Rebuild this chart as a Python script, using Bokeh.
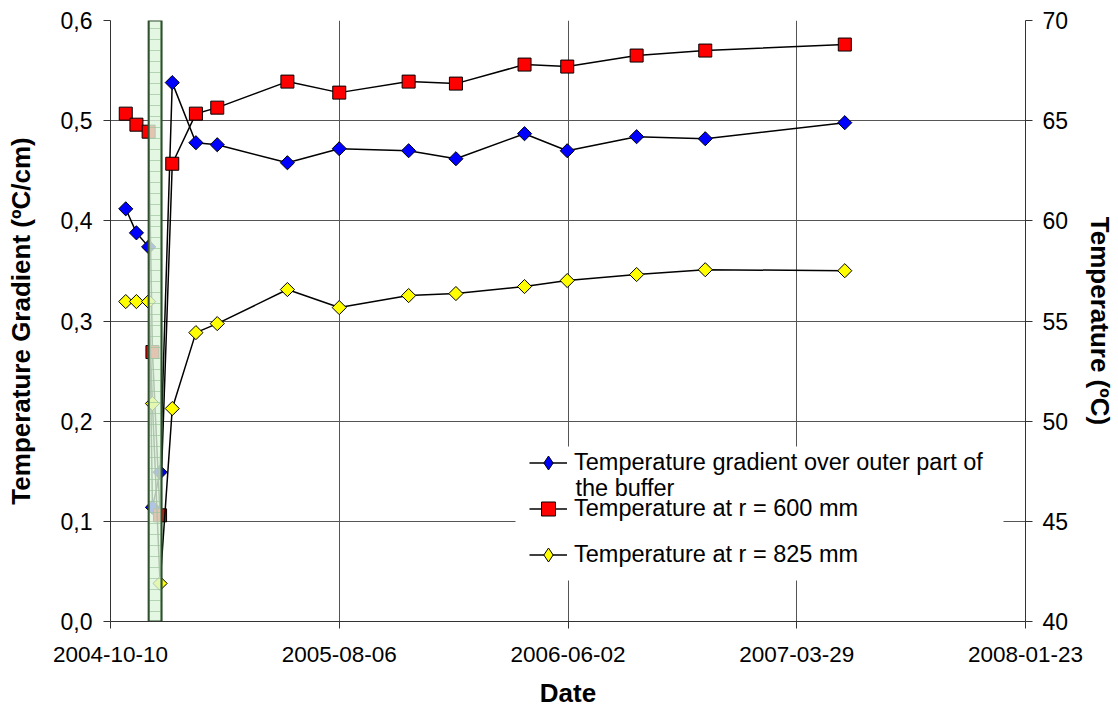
import numpy as np
import pandas as pd
from bokeh.plotting import figure
from bokeh.models import (LinearAxis, Range1d, FixedTicker, CustomJSTickFormatter,
                          Legend, LegendItem, Label, BoxAnnotation)
from bokeh.embed import file_html
from bokeh.resources import INLINE

# ---------------- data ----------------
dates = ["2004-10-30", "2004-11-13", "2004-11-29", "2004-12-04", "2004-12-14",
         "2004-12-30", "2005-01-30", "2005-02-27", "2005-05-30", "2005-08-06",
         "2005-11-05", "2006-01-06", "2006-04-06", "2006-06-01", "2006-08-31",
         "2006-11-29", "2007-05-31"]
gradient = [0.412, 0.388, 0.374, 0.114, 0.149, 0.538, 0.478, 0.476, 0.458, 0.472,
            0.470, 0.462, 0.487, 0.470, 0.484, 0.482, 0.498]
temp_600 = [65.35, 64.8, 64.45, 53.45, 45.3, 62.85, 65.35, 65.65, 66.95, 66.4,
            66.95, 66.85, 67.8, 67.7, 68.25, 68.5, 68.8]
temp_825 = [55.97, 55.97, 55.97, 50.88, 41.9, 50.63, 54.42, 54.87, 56.57, 55.67,
            56.27, 56.37, 56.72, 57.02, 57.32, 57.56, 57.51]
band_dates = ["2004-11-29", "2004-12-16"]
x_tick_labels = ["2004-10-10", "2005-08-06", "2006-06-02", "2007-03-29", "2008-01-23"]
left_ticks = [0.0, 0.1, 0.2, 0.3, 0.4, 0.5, 0.6]
right_ticks = [40, 45, 50, 55, 60, 65, 70]
legend_line1 = "Temperature gradient over outer part of"
legend_line2 = "the buffer"
series_names = ["Temperature at r = 600 mm", "Temperature at r = 825 mm"]

x = pd.to_datetime(dates)
x_ticks_dt = pd.to_datetime(x_tick_labels)
x_ticks_ms = [float(t.value // 10**6) for t in x_ticks_dt]
band = pd.to_datetime(band_dates)

FONT = "Liberation Sans"

p = figure(width=1118, height=710, x_axis_type="datetime",
           x_range=Range1d(x_ticks_dt[0], x_ticks_dt[-1]),
           y_range=Range1d(left_ticks[0], left_ticks[-1]),
           output_backend="svg", toolbar_location=None,
           min_border_left=110, min_border_right=88, min_border_top=20,
           min_border_bottom=89)
p.outline_line_color = None
p.background_fill_color = "white"
p.extra_y_ranges = {"temp": Range1d(right_ticks[0], right_ticks[-1])}

# axes
p.xaxis.ticker = FixedTicker(ticks=x_ticks_ms)
p.xaxis.major_label_overrides = {ms: lab for ms, lab in zip(x_ticks_ms, x_tick_labels)}
p.xaxis.axis_label = "Date"
p.yaxis.ticker = FixedTicker(ticks=left_ticks)
p.yaxis.formatter = CustomJSTickFormatter(code="return tick.toFixed(1).replace('.', ',');")
p.yaxis.axis_label = "Temperature Gradient (ºC/cm)"

right_axis = LinearAxis(y_range_name="temp", ticker=FixedTicker(ticks=right_ticks),
                        axis_label="Temperature (ºC)")
p.add_layout(right_axis, "right")

for ax in [p.xaxis[0], p.yaxis[0], right_axis]:
    ax.axis_line_color = "#333333"
    ax.axis_line_width = 1
    ax.major_tick_line_color = "#333333"
    ax.major_tick_in = 0
    ax.major_tick_out = 7
    ax.minor_tick_line_color = None
    ax.major_label_text_font = FONT
    ax.major_label_text_font_size = "23px"
    ax.major_label_text_color = "black"
    ax.axis_label_text_font = FONT
    ax.axis_label_text_font_size = "26px"
    ax.axis_label_text_font_style = "bold"
    ax.axis_label_text_color = "black"
p.xaxis[0].major_label_text_font_size = "22.5px"
p.xaxis[0].major_label_standoff = 18
p.xaxis[0].axis_label_standoff = 13
p.yaxis[0].major_label_standoff = 11
p.yaxis[0].axis_label_standoff = 22
right_axis.major_label_standoff = 10
right_axis.axis_label_standoff = 14

p.xgrid.grid_line_color = "#555555"
p.ygrid.grid_line_color = "#555555"
p.xgrid.grid_line_width = 1
p.ygrid.grid_line_width = 1

# white area behind the legend (hides the grid there)
p.add_layout(BoxAnnotation(left=405, right=893, bottom=41, top=175,
                           left_units="screen", right_units="screen",
                           bottom_units="screen", top_units="screen",
                           fill_color="white", fill_alpha=1, line_color=None,
                           level="underlay"))

# series
r_b_line = p.line(x, gradient, line_color="black", line_width=1.5)
k_b = p.scatter(x, gradient, marker="diamond", size=12, fill_color="#0000ff",
                line_color="black", line_width=1)
r_b_pts = p.scatter(x, gradient, marker="square", angle=np.pi / 4, size=10,
                    fill_color="#0000ff", line_color="black", line_width=1)
r_r_line = p.line(x, temp_600, line_color="black", line_width=1.5, y_range_name="temp")
r_r_pts = p.scatter(x, temp_600, marker="square", size=13, fill_color="#ff0000",
                    line_color="black", line_width=1, y_range_name="temp")
r_y_line = p.line(x, temp_825, line_color="black", line_width=1.5, y_range_name="temp")
k_y = p.scatter(x, temp_825, marker="diamond", size=12, fill_color="#ffff00",
                line_color="black", line_width=1, y_range_name="temp")
r_y_pts = p.scatter(x, temp_825, marker="square", angle=np.pi / 4, size=10,
                    fill_color="#ffff00", line_color="black", line_width=1,
                    y_range_name="temp")

# shaded period
p.quad(left=[band[0]], right=[band[1]], bottom=[left_ticks[0]], top=[left_ticks[-1]],
       fill_color="#dcf5dc", fill_alpha=0.8, line_color="#2f4f2f", line_width=2,
       hatch_pattern="+", hatch_color="#9cc49c", hatch_alpha=0.7, hatch_scale=11,
       hatch_weight=1)

legend = Legend(items=[
    LegendItem(label=legend_line1, renderers=[r_b_line, k_b]),
    LegendItem(label=series_names[0], renderers=[r_r_line, r_r_pts]),
    LegendItem(label=series_names[1], renderers=[r_y_line, k_y]),
], location=(419, 49), orientation="vertical")
legend.label_text_font = FONT
legend.label_text_font_size = "23.5px"
legend.label_text_color = "black"
legend.label_height = 28
legend.glyph_height = 35
legend.glyph_width = 38
legend.label_standoff = 7
legend.spacing = 11
legend.padding = 4
legend.margin = 0
legend.border_line_color = None
legend.background_fill_alpha = 0
p.add_layout(legend, "center")

p.add_layout(Label(x=465, y=134, x_units="screen", y_units="screen", text=legend_line2,
                   text_font=FONT, text_font_size="23.5px", text_color="black",
                   text_baseline="middle", text_align="left"))

open("out.html", "w").write(file_html(p, INLINE))
